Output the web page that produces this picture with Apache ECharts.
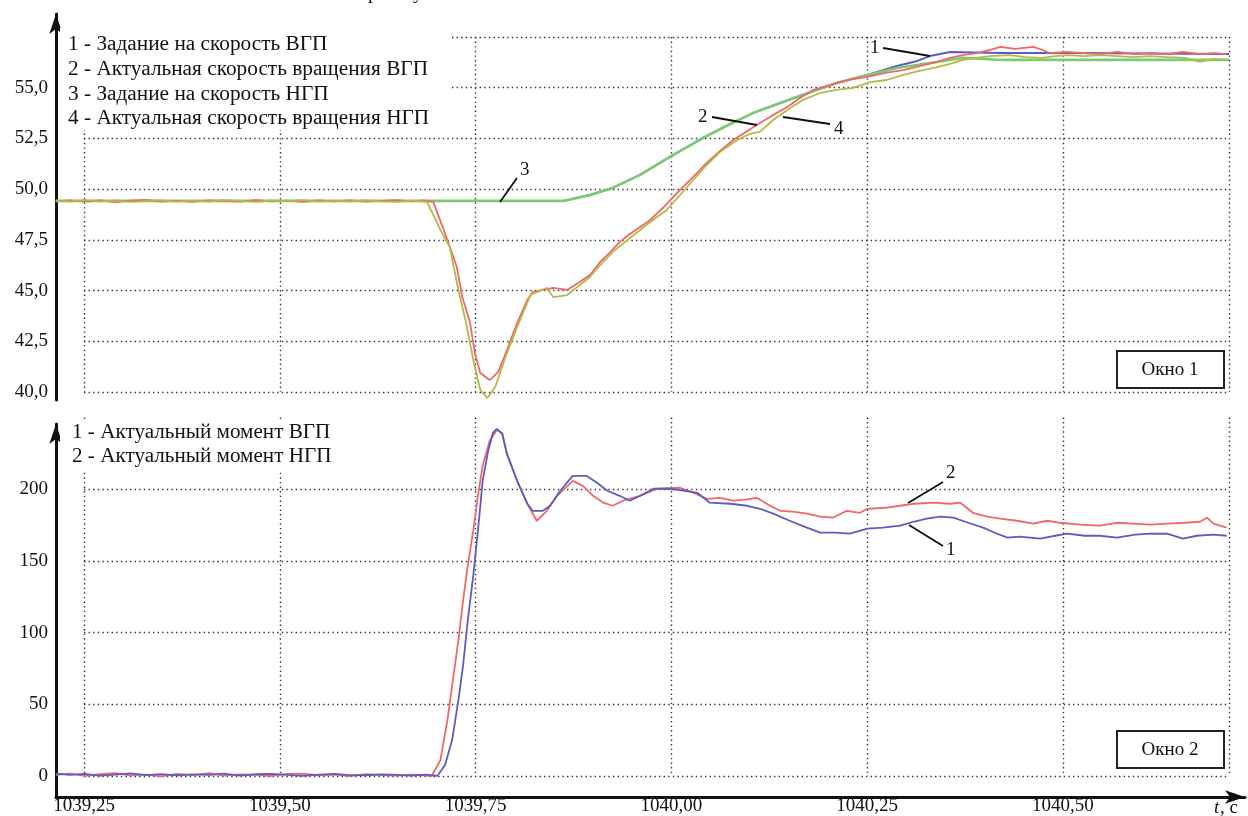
<!DOCTYPE html>
<html><head><meta charset="utf-8">
<script src="https://cdn.jsdelivr.net/npm/echarts@6/dist/echarts.min.js"></script>
<style>html,body{margin:0;padding:0;background:#fff}#c{width:1248px;height:816px}</style>
</head><body><div id="c"></div>
<script>
// ---- Окно 1: скорости (t, value) ----
const setpointVGP = [ // 1 - Задание на скорость ВГП (blue)
  [1039.214,49.42],[1039.862,49.42],[1039.896,49.71],[1039.925,50.06],[1039.960,50.70],[1039.998,51.59],
  [1040.040,52.52],[1040.075,53.21],[1040.104,53.75],[1040.132,54.15],[1040.160,54.54],[1040.211,55.23],
  [1040.250,55.63],[1040.288,56.07],[1040.314,56.32],[1040.330,56.56],[1040.356,56.76],[1040.420,56.71],
  [1040.500,56.71],[1040.712,56.66]
];
const actualVGP = [ // 2 - Актуальная скорость вращения ВГП (red)
  [1039.214,49.40],[1039.232,49.45],[1039.251,49.38],[1039.270,49.44],[1039.290,49.36],[1039.309,49.43],
  [1039.330,49.47],[1039.348,49.39],[1039.369,49.42],[1039.388,49.37],[1039.410,49.45],[1039.428,49.41],
  [1039.449,49.38],[1039.470,49.46],[1039.489,49.40],[1039.510,49.43],[1039.529,49.37],[1039.550,49.44],
  [1039.570,49.40],[1039.589,49.45],[1039.610,49.39],[1039.630,49.42],[1039.650,49.46],[1039.668,49.40],
  [1039.684,49.44],[1039.696,49.37],[1039.714,47.49],[1039.726,46.16],[1039.733,44.68],[1039.743,43.40],
  [1039.749,41.92],[1039.756,40.94],[1039.768,40.59],[1039.779,40.99],[1039.790,42.07],[1039.803,43.40],
  [1039.816,44.54],[1039.823,44.93],[1039.849,45.13],[1039.867,45.03],[1039.883,45.42],[1039.896,45.77],
  [1039.909,46.41],[1039.922,46.90],[1039.934,47.40],[1039.947,47.79],[1039.973,48.48],[1039.989,49.07],
  [1040.011,49.96],[1040.028,50.60],[1040.045,51.29],[1040.062,51.88],[1040.079,52.42],[1040.097,52.87],
  [1040.113,53.26],[1040.130,53.66],[1040.148,54.05],[1040.164,54.49],[1040.181,54.89],[1040.199,55.09],
  [1040.215,55.28],[1040.232,55.43],[1040.250,55.53],[1040.273,55.73],[1040.296,55.87],[1040.317,56.07],
  [1040.339,56.27],[1040.356,56.47],[1040.372,56.61],[1040.390,56.71],[1040.407,56.86],[1040.420,57.01],
  [1040.439,56.91],[1040.462,57.01],[1040.474,56.86],[1040.483,56.71],[1040.505,56.76],[1040.526,56.71],
  [1040.547,56.66],[1040.569,56.76],[1040.592,56.66],[1040.611,56.71],[1040.633,56.66],[1040.653,56.76],
  [1040.675,56.66],[1040.694,56.71],[1040.709,56.66]
];
const setpointNGP = [ // 3 - Задание на скорость НГП (green)
  [1039.214,49.42],[1039.862,49.42],[1039.896,49.71],[1039.925,50.06],[1039.960,50.70],[1039.998,51.59],
  [1040.040,52.52],[1040.075,53.21],[1040.104,53.75],[1040.132,54.15],[1040.160,54.54],[1040.211,55.23],
  [1040.250,55.63],[1040.288,55.97],[1040.339,56.27],[1040.372,56.47],[1040.400,56.42],[1040.420,56.37],
  [1040.712,56.37]
];
const actualNGP = [ // 4 - Актуальная скорость вращения НГП (olive)
  [1039.214,49.43],[1039.232,49.38],[1039.251,49.46],[1039.270,49.40],[1039.290,49.44],[1039.309,49.37],
  [1039.330,49.41],[1039.348,49.45],[1039.369,49.38],[1039.388,49.43],[1039.410,49.39],[1039.428,49.46],
  [1039.449,49.42],[1039.470,49.37],[1039.489,49.44],[1039.510,49.41],[1039.529,49.46],[1039.550,49.38],
  [1039.570,49.43],[1039.589,49.39],[1039.610,49.45],[1039.630,49.40],[1039.650,49.37],[1039.668,49.43],
  [1039.688,49.37],[1039.705,47.99],[1039.717,47.15],[1039.728,45.03],[1039.737,43.55],[1039.747,41.58],
  [1039.756,40.10],[1039.765,39.70],[1039.775,40.25],[1039.790,41.92],[1039.803,43.20],[1039.820,44.78],
  [1039.841,45.13],[1039.849,44.68],[1039.867,44.78],[1039.880,45.18],[1039.896,45.67],[1039.909,46.26],
  [1039.925,46.90],[1039.947,47.59],[1039.973,48.38],[1039.994,48.97],[1040.011,49.71],[1040.028,50.45],
  [1040.045,51.19],[1040.062,51.83],[1040.084,52.42],[1040.100,52.72],[1040.113,52.82],[1040.130,53.41],
  [1040.148,53.90],[1040.168,54.40],[1040.190,54.74],[1040.211,54.89],[1040.232,54.99],[1040.254,55.28],
  [1040.275,55.38],[1040.296,55.63],[1040.317,55.83],[1040.339,56.02],[1040.356,56.17],[1040.372,56.37],
  [1040.388,56.47],[1040.407,56.56],[1040.432,56.61],[1040.452,56.51],[1040.474,56.47],[1040.490,56.56],
  [1040.505,56.61],[1040.528,56.56],[1040.547,56.61],[1040.569,56.56],[1040.589,56.51],[1040.611,56.56],
  [1040.633,56.51],[1040.656,56.47],[1040.675,56.27],[1040.692,56.42],[1040.709,56.37]
];
// ---- Окно 2: моменты ----
const torqueVGP = [ // 1 - Актуальный момент ВГП (blue)
  [1039.214,3.0],[1039.232,2.1],[1039.251,2.8],[1039.270,1.6],[1039.290,2.4],[1039.309,3.2],[1039.330,2.0],
  [1039.348,2.7],[1039.369,1.8],[1039.388,2.5],[1039.410,2.2],[1039.428,3.0],[1039.449,1.7],[1039.470,2.6],
  [1039.489,2.9],[1039.510,2.1],[1039.529,1.5],[1039.550,2.4],[1039.570,2.8],[1039.589,2.0],[1039.610,1.9],
  [1039.630,2.5],[1039.650,2.2],[1039.668,1.7],[1039.688,2.3],[1039.701,1.4],[1039.711,9.0],[1039.720,26.3],
  [1039.728,53.9],[1039.734,78.1],[1039.740,109.3],[1039.747,140.4],[1039.753,171.5],[1039.759,206.1],
  [1039.766,226.8],[1039.772,239.3],[1039.777,242.1],[1039.784,238.6],[1039.790,224.8],[1039.803,206.1],
  [1039.816,190.2],[1039.823,185.3],[1039.836,185.3],[1039.845,188.8],[1039.858,199.2],[1039.874,209.5],
  [1039.892,209.5],[1039.905,204.7],[1039.918,199.2],[1039.934,195.7],[1039.947,192.3],[1039.960,195.7],
  [1039.977,200.6],[1039.998,200.6],[1040.017,199.2],[1040.033,197.8],[1040.049,190.9],[1040.075,190.2],
  [1040.097,188.8],[1040.113,186.7],[1040.130,183.3],[1040.151,178.4],[1040.173,173.6],[1040.190,170.1],
  [1040.209,170.1],[1040.228,169.4],[1040.250,172.9],[1040.270,173.6],[1040.292,175.0],[1040.309,177.7],
  [1040.326,179.8],[1040.343,181.2],[1040.360,180.5],[1040.379,177.0],[1040.398,173.6],[1040.413,170.1],
  [1040.429,166.7],[1040.445,167.4],[1040.471,166.0],[1040.490,168.0],[1040.505,169.4],[1040.528,168.0],
  [1040.547,168.0],[1040.569,166.7],[1040.592,168.8],[1040.611,169.4],[1040.633,169.4],[1040.653,166.0],
  [1040.671,168.0],[1040.692,168.8],[1040.709,168.0]
];
const torqueNGP = [ // 2 - Актуальный момент НГП (red)
  [1039.214,2.2],[1039.232,3.1],[1039.251,1.5],[1039.270,2.6],[1039.290,3.4],[1039.309,1.8],[1039.330,2.4],
  [1039.348,1.2],[1039.369,2.9],[1039.388,2.0],[1039.410,3.3],[1039.428,1.6],[1039.449,2.5],[1039.470,2.1],
  [1039.489,1.4],[1039.510,2.8],[1039.529,3.0],[1039.550,1.9],[1039.570,2.3],[1039.589,1.3],[1039.610,2.7],
  [1039.630,2.0],[1039.650,1.6],[1039.668,2.4],[1039.684,1.8],[1039.694,1.4],[1039.705,12.4],[1039.714,40.1],
  [1039.721,67.8],[1039.728,95.4],[1039.734,123.1],[1039.740,147.3],[1039.747,171.5],[1039.753,195.7],
  [1039.759,216.5],[1039.768,233.8],[1039.777,241.4],[1039.784,239.3],[1039.790,224.8],[1039.803,206.1],
  [1039.816,190.2],[1039.828,178.4],[1039.841,185.3],[1039.854,195.7],[1039.874,206.1],[1039.887,202.6],
  [1039.900,195.7],[1039.913,190.9],[1039.925,188.8],[1039.938,192.3],[1039.960,195.7],[1039.982,200.6],
  [1040.011,201.3],[1040.028,197.8],[1040.045,193.6],[1040.062,194.3],[1040.079,192.3],[1040.094,193.0],
  [1040.109,194.3],[1040.126,188.8],[1040.139,185.3],[1040.155,184.7],[1040.173,183.3],[1040.190,181.2],
  [1040.206,180.5],[1040.224,185.3],[1040.241,183.9],[1040.250,186.7],[1040.273,187.4],[1040.292,188.8],
  [1040.311,190.2],[1040.334,190.9],[1040.356,190.2],[1040.369,190.9],[1040.385,183.9],[1040.403,181.2],
  [1040.420,179.8],[1040.441,178.4],[1040.462,176.4],[1040.480,178.4],[1040.496,177.0],[1040.522,175.7],
  [1040.547,175.0],[1040.569,177.0],[1040.589,176.4],[1040.611,175.7],[1040.633,176.4],[1040.656,177.0],
  [1040.675,177.7],[1040.684,180.5],[1040.692,176.4],[1040.709,173.6]
];
// ---- axes / labels ----
const xStart = 1039.2142;           // left edge of the plot (y-axis position)
const xMin = 1039.25, xMax = 1040.712, xStep = 0.25;
const speedMin = 40, speedMax = 57.5, speedStep = 2.5;
const torqueMin = 0, torqueMax = 250, torqueStep = 50;
const legend1 = ['1 - Задание на скорость ВГП','2 - Актуальная скорость вращения ВГП','3 - Задание на скорость НГП','4 - Актуальная скорость вращения НГП'];
const legend2 = ['1 - Актуальный момент ВГП','2 - Актуальный момент НГП'];
const win1 = 'Окно 1', win2 = 'Окно 2';

const FONT = '"Liberation Serif","DejaVu Serif",serif';
const C_BLUE = '#5c5cc4', C_RED = '#f2666a', C_GREEN = '#7ccb74', C_OLIVE = '#b8b84a';
const dotted = {show:true, lineStyle:{color:'#333', width:1.4, type:[1.4,3.2]}};
const comma = (d) => (v) => v.toFixed(d).replace('.', ',');

const chart = echarts.init(document.getElementById('c'), null, {renderer:'canvas'});
const mainX = (gi, labels) => ({
  type:'value', gridIndex:gi, min:xMin, max:xMax, interval:xStep,
  axisLine:{show:false}, axisTick:{show:false}, splitLine:dotted,
  offset: labels ? 19 : 0,
  axisLabel:{show:labels, showMaxLabel:false, margin:2, fontFamily:FONT, fontSize:19, color:'#111', formatter:comma(2)}
});
const plain = (gi, type) => ({type:'value', gridIndex:gi, min:0, max:1, show:type!=='hidden',
  axisLine:{show:true, onZero:false, symbol:['none','arrow'], symbolSize:[10,20], lineStyle:{color:'#111', width:3}},
  axisTick:{show:false}, axisLabel:{show:false}, splitLine:{show:false}});
const hiddenAx = (gi, min, max) => ({type:'value', gridIndex:gi, min, max, show:false, splitLine:{show:false}});
const line = (name, data, xi, color, width, z) => ({
  name, type:'line', xAxisIndex:xi, yAxisIndex:xi, data, showSymbol:false, clip:false, z,
  lineStyle:{color, width}, itemStyle:{color}, animation:false
});

const txt = (text, x, y, size, extra, sx) => ({type:'text', z:60, x, y, scaleX: sx || 1,
  style:Object.assign({text, x:0, y:0, fill:'#111', font:size+'px '+FONT, verticalAlign:'middle', align:'left'}, extra||{})});
const seg = (x1,y1,x2,y2) => ({type:'line', z:60, shape:{x1,y1,x2,y2}, style:{stroke:'#111', lineWidth:1.8}});

const graphics = [
  {type:'rect', z:50, shape:{x:60, y:28, width:392, height:102}, style:{fill:'#fff'}},
  {type:'rect', z:50, shape:{x:60, y:421, width:290, height:50}, style:{fill:'#fff'}},
  {type:'rect', z:50, shape:{x:1117, y:351, width:107, height:37}, style:{fill:'#fff', stroke:'#222', lineWidth:2}},
  {type:'rect', z:50, shape:{x:1117, y:731, width:107, height:37}, style:{fill:'#fff', stroke:'#222', lineWidth:2}},
  txt(win1, 1170, 370, 19, {align:'center'}),
  txt(win2, 1170, 750, 19, {align:'center'}),
  txt('t', 1214, 808, 19, {font:'italic 19px '+FONT}),
  txt(', с', 1220, 808, 19),
  txt('р', 368, -7, 20), txt('у', 413, -7, 20),
  seg(883,48,930,56), txt('1', 870, 48, 19),
  seg(712,117,757,125), txt('2', 698, 117, 19),
  seg(783,117,830,124), txt('4', 834, 129, 19),
  seg(517,178,500,202), txt('3', 520, 170, 19),
  seg(943,482,908,503), txt('2', 946, 473, 19),
  seg(943,546,909,525), txt('1', 946, 550, 19)
];
legend1.forEach((s,i)=>graphics.push(txt(s, 68, 45 + i*24.7, 20, null, 1.065)));
legend2.forEach((s,i)=>graphics.push(txt(s, 72, 433 + i*24, 20, null, 1.057)));

chart.setOption({
  animation:false,
  grid:[
    {left:84, top:37, width:1145, height:355},
    {left:84, top:417.5, width:1145, height:360.5},
    {left:56, top:14, width:10, height:386},
    {left:56, top:424, width:1189, height:373},
    {left:56, top:37, width:1173, height:355},
    {left:56, top:417.5, width:1173, height:360.5}
  ],
  xAxis:[ mainX(0,false), mainX(1,true), plain(2,'hidden'), plain(3,'x'),
          hiddenAx(4, xStart, xMax), hiddenAx(5, xStart, xMax) ],
  yAxis:[
    {type:'value', gridIndex:0, min:speedMin, max:speedMax, interval:speedStep,
     axisLine:{show:false}, axisTick:{show:false}, splitLine:dotted,
     axisLabel:{showMaxLabel:false, margin:36, fontFamily:FONT, fontSize:19, color:'#111', formatter:comma(1)}},
    {type:'value', gridIndex:1, min:torqueMin, max:torqueMax, interval:torqueStep,
     axisLine:{show:false}, axisTick:{show:false}, splitLine:Object.assign({showMaxLine:false}, dotted),
     axisLabel:{showMaxLabel:false, margin:36, fontFamily:FONT, fontSize:19, color:'#111'}},
    plain(2,'y'), plain(3,'y'),
    hiddenAx(4, speedMin, speedMax), hiddenAx(5, torqueMin, torqueMax)
  ],
  series:[
    line('1', setpointVGP, 4, C_BLUE, 2, 3),
    line('3', setpointNGP, 4, C_GREEN, 2.6, 4),
    line('2', actualVGP, 4, C_RED, 1.8, 5),
    line('4', actualNGP, 4, C_OLIVE, 1.8, 6),
    line('2', torqueNGP, 5, C_RED, 1.8, 5),
    line('1', torqueVGP, 5, C_BLUE, 1.8, 6)
  ],
  graphic: graphics
});
</script></body></html>
